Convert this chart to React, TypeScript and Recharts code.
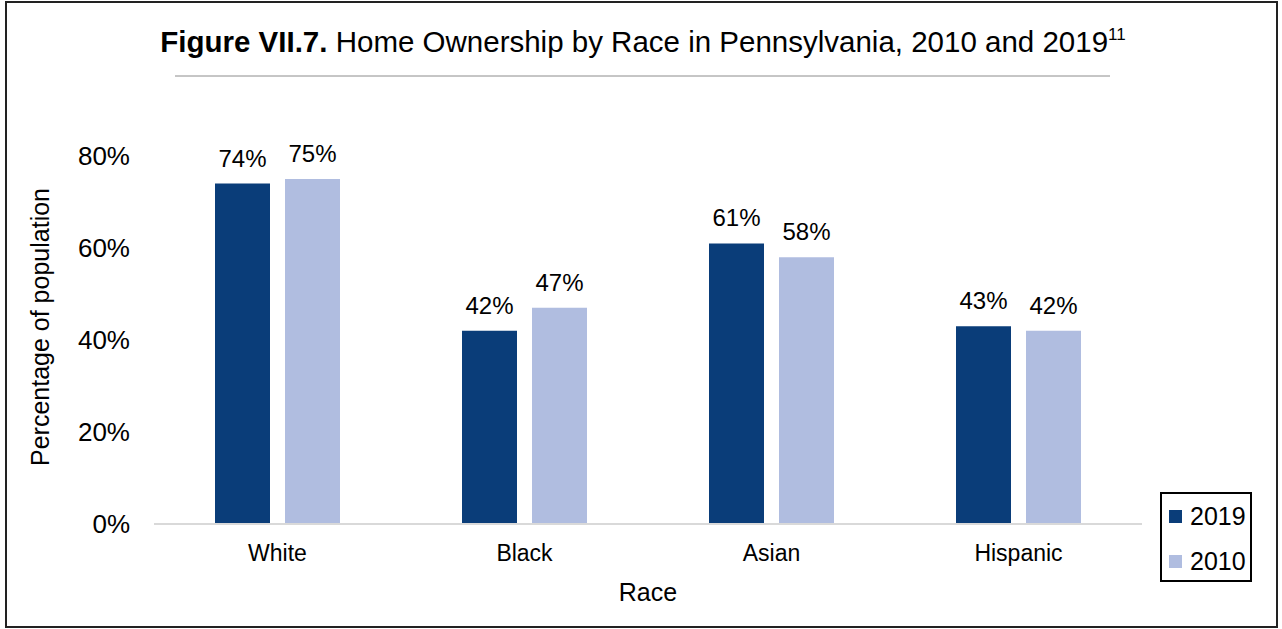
import React from 'react';
import { BarChart, Bar, XAxis, YAxis, LabelList } from 'recharts';

const races = ['White', 'Black', 'Asian', 'Hispanic'];
const values2019 = [74, 42, 61, 43];
const values2010 = [75, 47, 58, 42];
const yTicks = [0, 20, 40, 60, 80];

const color2019 = '#0a3d79';
const color2010 = '#b0bde0';
const font = 'Liberation Sans, Arial, sans-serif';

const data = races.map((race, i) => ({
    race,
    y2019: values2019[i],
    y2010: values2010[i],
}));

const legendItems = [
    { label: '2019', color: color2019 },
    { label: '2010', color: color2010 },
];

// legend drawn as an overlay so it does not take space from the plot
const LegendBox = () => (
    <div
        style={{
            position: 'absolute',
            left: 1160,
            top: 492,
            width: 88,
            height: 86,
            border: '2px solid #000',
            background: '#fff',
            fontFamily: font,
            fontSize: 25,
            color: '#000',
            paddingTop: 0,
        }}
    >
        {legendItems.map((item) => (
            <div key={item.label} style={{ display: 'flex', alignItems: 'center', height: 45, paddingLeft: 7 }}>
                <span style={{ width: 13, height: 13, background: item.color, marginRight: 8, display: 'inline-block' }} />
                <span>{item.label}</span>
            </div>
        ))}
    </div>
);

const YTitle = () => (
    <text
        x={49}
        y={327}
        transform="rotate(-90 49 327)"
        textAnchor="middle"
        fontSize={25}
        fontFamily={font}
        fill="#000"
    >
        Percentage of population
    </text>
);

const XTitle = () => (
    <text x={648} y={601} textAnchor="middle" fontSize={25} fontFamily={font} fill="#000">
        Race
    </text>
);

const App: React.FC = () => {
    return (
        <div style={{ position: 'absolute', left: 0, top: 0, width: 1282, height: 629, background: '#fff' }}>
            <div
                style={{
                    position: 'absolute',
                    left: 5,
                    top: 1,
                    width: 1269,
                    height: 623,
                    border: '2px solid #222',
                }}
            />
            <svg style={{ position: 'absolute', left: 0, top: 0 }} width={1282} height={100}>
                <text x={643} y={52} textAnchor="middle" fontFamily={font} fontSize={29.5} fill="#000">
                    <tspan fontWeight="bold">Figure VII.7.</tspan>
                    <tspan> Home Ownership by Race in Pennsylvania, 2010 and 2019</tspan>
                    <tspan fontSize={17} dy={-12}>11</tspan>
                </text>
                <line x1={175} x2={1110} y1={76} y2={76} stroke="#8c8c8c" strokeWidth={1} />
            </svg>
            <div style={{ position: 'absolute', left: 0, top: 0 }}>
                <BarChart
                    width={1282}
                    height={629}
                    data={data}
                    margin={{ top: 156, right: 140, left: 0, bottom: 25 }}
                    barSize={55}
                    barGap={15}
                >
                    <XAxis
                        dataKey="race"
                        height={80}
                        tickLine={false}
                        tickSize={0}
                        tickMargin={21}
                        axisLine={{ stroke: '#d9d9d9', strokeWidth: 2 }}
                        tick={{ fill: '#000', fontSize: 23, fontFamily: font }}
                        label={<XTitle />}
                    />
                    <YAxis
                        width={154}
                        domain={[0, 80]}
                        ticks={yTicks}
                        tickFormatter={(v: number) => `${v}%`}
                        axisLine={false}
                        tickLine={false}
                        tickSize={0}
                        tickMargin={24}
                        tick={{ fill: '#000', fontSize: 26, fontFamily: font }}
                        label={<YTitle />}
                    />
                    <Bar dataKey="y2019" name="2019" fill={color2019} isAnimationActive={false}>
                        <LabelList
                            dataKey="y2019"
                            position="top"
                            offset={17}
                            formatter={(v: number) => `${v}%`}
                            style={{ fill: '#000', fontSize: 24, fontFamily: font }}
                        />
                    </Bar>
                    <Bar dataKey="y2010" name="2010" fill={color2010} isAnimationActive={false}>
                        <LabelList
                            dataKey="y2010"
                            position="top"
                            offset={17}
                            formatter={(v: number) => `${v}%`}
                            style={{ fill: '#000', fontSize: 24, fontFamily: font }}
                        />
                    </Bar>
                </BarChart>
            </div>
            <LegendBox />
        </div>
    );
};

export default App;
